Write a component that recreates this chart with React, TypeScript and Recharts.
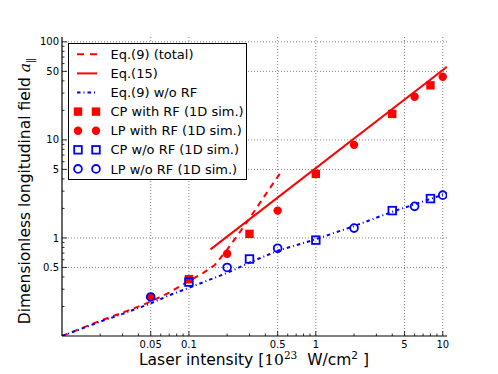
import React from 'react';
import { ComposedChart, Line, Scatter, XAxis, YAxis, CartesianGrid, Legend } from 'recharts';

// ---- data (intensity in 1e23 W/cm^2, dimensionless field) ----
const eq9Total = [
  { x: 0.01, y: 0.1 }, { x: 0.02, y: 0.143 }, { x: 0.03, y: 0.173 }, { x: 0.043, y: 0.207 },
  { x: 0.05, y: 0.225 }, { x: 0.07, y: 0.277 }, { x: 0.1, y: 0.365 }, { x: 0.13, y: 0.44 },
  { x: 0.16, y: 0.53 }, { x: 0.2, y: 0.76 }, { x: 0.25, y: 1.13 }, { x: 0.3, y: 1.58 },
  { x: 0.4, y: 2.75 }, { x: 0.545, y: 4.94 },
];
const eq15 = [{ x: 0.148, y: 0.765 }, { x: 10.8, y: 55.6 }];
const eq9NoRF = [
  { x: 0.01, y: 0.1 }, { x: 0.02, y: 0.14 }, { x: 0.03, y: 0.168 }, { x: 0.05, y: 0.215 },
  { x: 0.07, y: 0.26 }, { x: 0.1, y: 0.31 }, { x: 0.2, y: 0.44 }, { x: 0.3, y: 0.56 },
  { x: 0.5, y: 0.74 }, { x: 1, y: 0.97 }, { x: 2, y: 1.32 }, { x: 4, y: 1.85 },
  { x: 6, y: 2.2 }, { x: 8, y: 2.5 }, { x: 10.8, y: 2.85 },
];
const cpWithRF = [
  { x: 0.1, y: 0.38 }, { x: 0.3, y: 1.1 }, { x: 1, y: 4.5 }, { x: 4, y: 18.4 }, { x: 8, y: 36 },
];
const lpWithRF = [
  { x: 0.05, y: 0.25 }, { x: 0.2, y: 0.69 }, { x: 0.5, y: 1.9 }, { x: 2, y: 8.9 },
  { x: 6, y: 27.5 }, { x: 10, y: 44 },
];
const cpNoRF = [
  { x: 0.1, y: 0.355 }, { x: 0.3, y: 0.61 }, { x: 1, y: 0.95 }, { x: 4, y: 1.9 }, { x: 8, y: 2.52 },
];
const lpNoRF = [
  { x: 0.05, y: 0.25 }, { x: 0.2, y: 0.5 }, { x: 0.5, y: 0.785 }, { x: 2, y: 1.26 },
  { x: 6, y: 2.1 }, { x: 10, y: 2.73 },
];

const xMajor = [0.05, 0.1, 0.5, 1, 5, 10];
const xMajorLabels = ['0.05', '0.1', '0.5', '1', '5', '10'];
const xMinor = [0.02, 0.03, 0.04, 0.06, 0.07, 0.08, 0.09, 0.2, 0.3, 0.4, 0.6, 0.7, 0.8, 0.9, 2, 3, 4, 6, 7, 8, 9];
const yMajor = [0.5, 1, 5, 10, 50, 100];
const yMajorLabels = ['0.5', '1', '5', '10', '50', '100'];
const yMinor = [0.2, 0.3, 0.4, 0.6, 0.7, 0.8, 0.9, 2, 3, 4, 6, 7, 8, 9, 20, 30, 40, 60, 70, 80, 90];

const legendItems = [
  { label: 'Eq.(9) (total)', kind: 'dash' },
  { label: 'Eq.(15)', kind: 'solid' },
  { label: 'Eq.(9) w/o RF', kind: 'dashdot' },
  { label: 'CP with RF (1D sim.)', kind: 'rsq' },
  { label: 'LP with RF (1D sim.)', kind: 'rci' },
  { label: 'CP w/o RF (1D sim.)', kind: 'bsq' },
  { label: 'LP w/o RF (1D sim.)', kind: 'bci' },
];

const xTicks = [...xMajor, ...xMinor].sort((a, b) => a - b);
const yTicks = [...yMajor, ...yMinor].sort((a, b) => a - b);

const RED = '#ff0000';
const BLUE = '#0000ff';
const FONT = 'DejaVu Sans, sans-serif';
const DASH = '6 5';
const DASHDOT = '3.5 3 1 3';

const MAJ = 5;
const MIN = 2.5;

const makeTick = (side: string, labels: boolean) => (props: any) => {
  const { x, y, payload } = props;
  const v = payload.value;
  const majors = side === 'bottom' || side === 'top' ? xMajor : yMajor;
  const names = side === 'bottom' || side === 'top' ? xMajorLabels : yMajorLabels;
  const idx = majors.indexOf(v);
  const len = idx >= 0 ? MAJ : MIN;
  let line;
  if (side === 'bottom') line = <line x1={x} y1={y} x2={x} y2={y - len} stroke="#000" strokeWidth={0.8} />;
  else if (side === 'top') line = <line x1={x} y1={y} x2={x} y2={y + len} stroke="#000" strokeWidth={0.8} />;
  else if (side === 'left') line = <line x1={x} y1={y} x2={x + len} y2={y} stroke="#000" strokeWidth={0.8} />;
  else line = <line x1={x} y1={y} x2={x - len} y2={y} stroke="#000" strokeWidth={0.8} />;
  let text = null;
  if (labels && idx >= 0) {
    if (side === 'bottom')
      text = <text x={x} y={y + 12} textAnchor="middle" fontSize={10} fontFamily={FONT} fill="#000">{names[idx]}</text>;
    else if (side === 'left')
      text = <text x={x - 3} y={y + 3.6} textAnchor="end" fontSize={10} fontFamily={FONT} fill="#000">{names[idx]}</text>;
  }
  return <g>{line}{text}</g>;
};

const XLabel = () => (
  <text x={254} y={365} textAnchor="middle" fontSize={15.5} fontFamily={FONT} fill="#000">
    Laser intensity [<tspan fontFamily="DejaVu Serif, serif">10</tspan>
    <tspan fontFamily="DejaVu Serif, serif" fontSize={10.5} dy={-6}>23</tspan>
    <tspan dy={6}>{'\u00a0\u00a0W/cm'}</tspan>
    <tspan fontSize={10.5} dy={-6}>2</tspan>
    <tspan dy={6}>{'\u00a0]'}</tspan>
  </text>
);

const YLabel = () => (
  <text x={30} y={191} transform="rotate(-90 30 191)" textAnchor="middle" fontSize={15.5} fontFamily={FONT} fill="#000">
    {'Dimensionless longitudinal field '}
    <tspan fontFamily="DejaVu Serif, serif" fontStyle="italic">a</tspan>
    <tspan fontSize={10.5} dy={4}>{'\u2225'}</tspan>
  </text>
);

const RedSquare = (p: any) => <rect x={p.cx - 4.2} y={p.cy - 4.2} width={8.4} height={8.4} fill={RED} />;
const RedCircle = (p: any) => <circle cx={p.cx} cy={p.cy} r={4.2} fill={RED} />;
const BlueSquare = (p: any) => (
  <rect x={p.cx - 3.8} y={p.cy - 3.8} width={7.6} height={7.6} fill="none" stroke={BLUE} strokeWidth={1.8} />
);
const BlueCircle = (p: any) => <circle cx={p.cx} cy={p.cy} r={3.9} fill="none" stroke={BLUE} strokeWidth={1.8} />;

const legendIcon = (kind: string, cy: number) => {
  const a = 10, b = 28;
  switch (kind) {
    case 'dash':
      return <line x1={9} x2={29} y1={cy} y2={cy} stroke={RED} strokeWidth={2} strokeDasharray="7 6" />;
    case 'solid':
      return <line x1={9} x2={29} y1={cy} y2={cy} stroke={RED} strokeWidth={2} />;
    case 'dashdot':
      return <line x1={9} x2={29} y1={cy} y2={cy} stroke={BLUE} strokeWidth={2} strokeDasharray={DASHDOT} />;
    case 'rsq':
      return <g><RedSquare cx={a} cy={cy} /><RedSquare cx={b} cy={cy} /></g>;
    case 'rci':
      return <g><RedCircle cx={a} cy={cy} /><RedCircle cx={b} cy={cy} /></g>;
    case 'bsq':
      return <g><BlueSquare cx={a} cy={cy} /><BlueSquare cx={b} cy={cy} /></g>;
    default:
      return <g><BlueCircle cx={a} cy={cy} /><BlueCircle cx={b} cy={cy} /></g>;
  }
};

const LegendBox = () => (
  <svg width={180} height={138} style={{ display: 'block' }}>
    <rect x={0.5} y={0.5} width={178} height={136} fill="#fff" stroke="#000" strokeWidth={1} />
    {legendItems.map((it, i) => {
      const cy = 11.3 + i * 19.1;
      return (
        <g key={it.label}>
          {legendIcon(it.kind, cy)}
          <text x={42.5} y={cy + 4.6} fontSize={13} fontFamily={FONT} fill="#000">{it.label}</text>
        </g>
      );
    })}
  </svg>
);

export default function App() {
  return (
    <div style={{ position: 'absolute', left: 0, top: 0, width: 498, height: 374, background: '#fff' }}>
      <ComposedChart width={498} height={374} margin={{ top: 37, right: 51, bottom: 0, left: 0 }}>
        <XAxis
          xAxisId={0}
          type="number"
          dataKey="x"
          scale="log"
          domain={[0.01, 10.8]}
          allowDataOverflow
          ticks={xTicks}
          interval={0}
          tickSize={0}
          tickMargin={0}
          tickLine={false}
          height={38}
          axisLine={{ stroke: '#000', strokeWidth: 1.2 }}
          tick={makeTick('bottom', true)}
          label={<XLabel />}
        />
        <XAxis
          xAxisId="top"
          orientation="top"
          type="number"
          dataKey="x"
          scale="log"
          domain={[0.01, 10.8]}
          allowDataOverflow
          ticks={xTicks}
          interval={0}
          tickSize={0}
          tickMargin={0}
          tickLine={false}
          height={0}
          axisLine={{ stroke: '#000', strokeWidth: 1.2 }}
          tick={makeTick('top', false)}
        />
        <YAxis
          yAxisId={0}
          type="number"
          dataKey="y"
          scale="log"
          domain={[0.1, 112]}
          allowDataOverflow
          ticks={yTicks}
          interval={0}
          tickSize={0}
          tickMargin={0}
          tickLine={false}
          width={62}
          axisLine={{ stroke: '#000', strokeWidth: 1.2 }}
          tick={makeTick('left', true)}
          label={<YLabel />}
        />
        <YAxis
          yAxisId="right"
          orientation="right"
          type="number"
          dataKey="y"
          scale="log"
          domain={[0.1, 112]}
          allowDataOverflow
          ticks={yTicks}
          interval={0}
          tickSize={0}
          tickMargin={0}
          tickLine={false}
          width={0}
          axisLine={{ stroke: '#000', strokeWidth: 1.2 }}
          tick={makeTick('right', false)}
        />
        <CartesianGrid
          xAxisId={0}
          yAxisId={0}
          horizontalValues={yMajor}
          verticalValues={xMajor}
          stroke="#666"
          strokeWidth={0.8}
          strokeDasharray="1 2"
        />
        <Line data={eq9Total} dataKey="y" type="linear" stroke={RED} strokeWidth={2} strokeDasharray={DASH} dot={false} activeDot={false} isAnimationActive={false} />
        <Line data={eq15} dataKey="y" type="linear" stroke={RED} strokeWidth={2} dot={false} activeDot={false} isAnimationActive={false} />
        <Line data={eq9NoRF} dataKey="y" type="linear" stroke={BLUE} strokeWidth={2} strokeDasharray={DASHDOT} dot={false} activeDot={false} isAnimationActive={false} />
        <Scatter data={cpWithRF} dataKey="y" shape={RedSquare} isAnimationActive={false} />
        <Scatter data={lpWithRF} dataKey="y" shape={RedCircle} isAnimationActive={false} />
        <Scatter data={cpNoRF} dataKey="y" shape={BlueSquare} isAnimationActive={false} />
        <Scatter data={lpNoRF} dataKey="y" shape={BlueCircle} isAnimationActive={false} />
        <Legend
          layout="vertical"
          align="center"
          verticalAlign="middle"
          wrapperStyle={{ left: 68, top: 43, width: 180, height: 138 }}
          content={() => <LegendBox />}
        />
      </ComposedChart>
    </div>
  );
}
